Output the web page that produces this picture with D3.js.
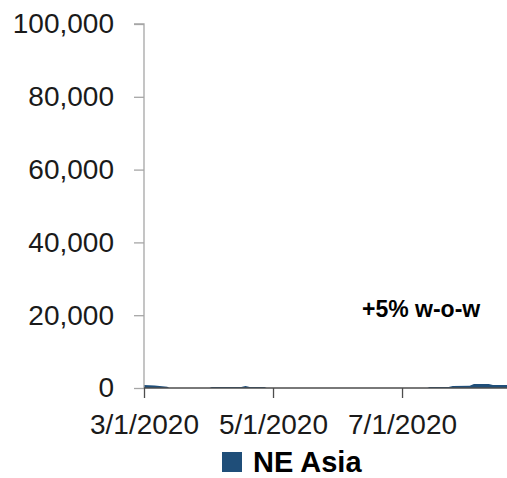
<!DOCTYPE html>
<html>
<head>
<meta charset="utf-8">
<script src="https://cdn.jsdelivr.net/npm/d3@7"></script>
<style>
  html, body { margin: 0; padding: 0; background: #fff; }
  svg { display: block; }
</style>
</head>
<body>
<svg id="chart" width="507" height="478"></svg>
<script>
// Weekly-case series for NE Asia (date breakpoints and values)
const dates = ["2020-03-01","2020-03-06","2020-03-12","2020-03-13","2020-04-01","2020-04-02",
               "2020-04-16","2020-04-18","2020-04-20","2020-04-27","2020-04-28","2020-07-13",
               "2020-07-14","2020-07-23","2020-07-25","2020-08-02","2020-08-04","2020-08-11",
               "2020-08-13","2020-08-20"];
const values = [800,700,350,0,0,300,300,550,300,250,0,0,250,300,550,600,1100,1100,800,800];
const yTicks = [0,20000,40000,60000,80000,100000];
const xTickDates = ["2020-03-01","2020-05-01","2020-07-01"];
const seriesName = "NE Asia";
const note = "+5% w-o-w";

(function () {
  const parse = d3.utcParse("%Y-%m-%d");
  const data = dates.map((d, i) => ({ date: parse(d), value: values[i] }));

  const svg = d3.select("#chart");
  const plotLeft = 144, plotTop = 24, plotBottom = 388;
  const pxPerDay = 2.115;
  const x0 = parse("2020-03-01");
  const xEnd = d3.utcDay.offset(x0, 172);

  const x = d3.scaleUtc().domain([x0, xEnd]).range([plotLeft, plotLeft + 172 * pxPerDay]);
  const y = d3.scaleLinear().domain([0, 100000]).range([plotBottom, plotTop]);

  // filled area for the series
  svg.append("path")
    .datum(data)
    .attr("fill", "#1F4E79")
    .attr("d", d3.area().x(d => x(d.date)).y0(y(0)).y1(d => y(d.value)));

  const fmt = d3.format(",");
  const font = "'Liberation Sans', Arial, sans-serif";

  // y axis
  const yAxis = svg.append("g")
    .attr("transform", `translate(${plotLeft},0)`)
    .call(d3.axisLeft(y).tickValues(yTicks).tickFormat(fmt).tickSize(10).tickPadding(20));
  yAxis.select(".domain").attr("stroke", "#a6a6a6").attr("stroke-width", 1.3)
    .attr("d", `M-10,${plotTop}H0V${plotBottom}`);
  yAxis.selectAll(".tick line").attr("stroke", "#a6a6a6").attr("stroke-width", 1.3);
  yAxis.selectAll(".tick text")
    .attr("fill", "#1a1a1a")
    .style("font-family", font)
    .style("font-size", "28px");

  // x axis
  const xAxis = svg.append("g")
    .attr("transform", `translate(0,${plotBottom})`)
    .call(d3.axisBottom(x).tickValues(xTickDates.map(parse))
      .tickFormat(d3.utcFormat("%-m/%-d/%Y")).tickSize(10).tickPadding(16));
  xAxis.select(".domain").attr("stroke", "#4d4d4d").attr("stroke-width", 1.3)
    .attr("d", `M${plotLeft},0H507`);
  xAxis.selectAll(".tick line").attr("stroke", "#4d4d4d").attr("stroke-width", 1.3);
  xAxis.selectAll(".tick text")
    .attr("fill", "#1a1a1a")
    .style("font-family", font)
    .style("font-size", "28px");

  // annotation
  svg.append("text")
    .attr("x", 362).attr("y", 317)
    .attr("fill", "#000")
    .style("font-family", font)
    .style("font-weight", "bold")
    .style("font-size", "23px")
    .text(note);

  // legend
  const legend = svg.append("g");
  legend.append("rect")
    .attr("x", 222).attr("y", 452).attr("width", 20).attr("height", 20)
    .attr("fill", "#1F4E79");
  legend.append("text")
    .attr("x", 253).attr("y", 472)
    .attr("fill", "#000")
    .style("font-family", font)
    .style("font-weight", "bold")
    .style("font-size", "29px")
    .text(seriesName);
})();
</script>
</body>
</html>
